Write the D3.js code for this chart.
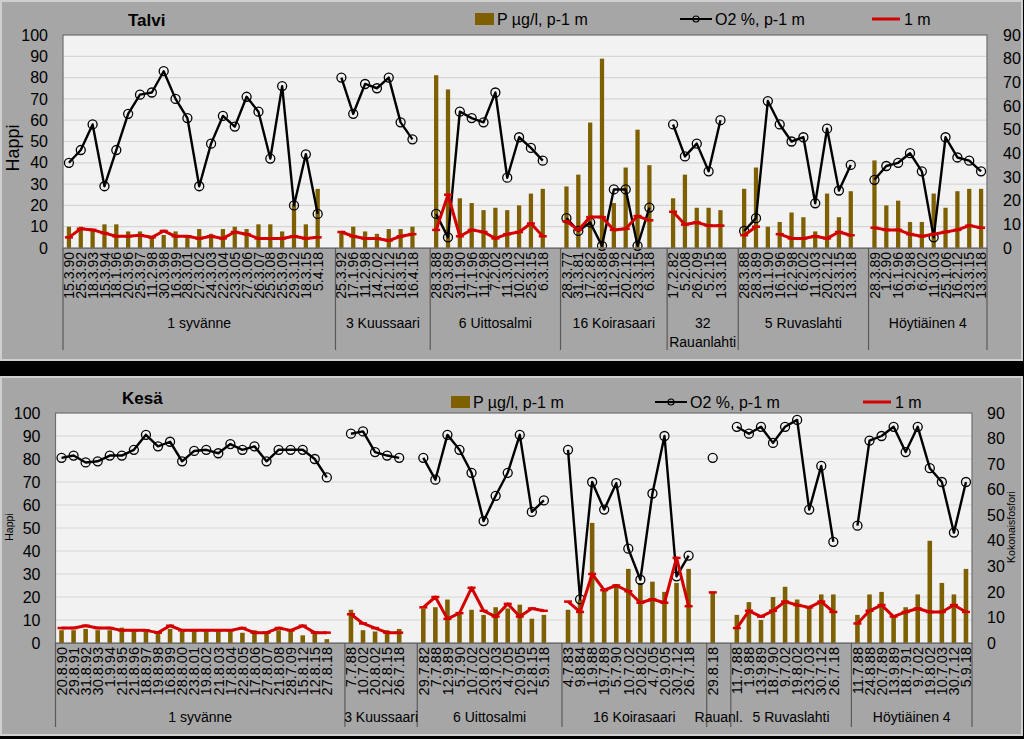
<!DOCTYPE html>
<html><head><meta charset="utf-8">
<script src="https://cdn.jsdelivr.net/npm/d3@7"></script>
<style>
body{margin:0;background:#000;}
svg{display:block;}
text{font-family:"Liberation Sans", Arial, sans-serif;fill:#000;}
</style>
</head><body><svg id="c" width="1024" height="739"></svg>
<script>
// ---------- DATA ----------
const legendLabels = ["P µg/l, p-1 m", "O2 %, p-1 m", "1 m"];
const leftTicks = [0,10,20,30,40,50,60,70,80,90,100];
const rightTicks = [0,10,20,30,40,50,60,70,80,90];

const winterGroups = ["1 syvänne","3 Kuussaari","6 Uittosalmi","16 Koirasaari","32|Rauanlahti","5 Ruvaslahti","Höytiäinen 4"];
const winterDates = [
 ["15.3.90","25.3.92","18.3.93","15.3.94","18.1.96","20.3.96","25.3.97","11.2.98","30.3.98","16.3.99","28.3.01","27.3.02","24.3.03","22.3.04","23.3.05","27.3.06","26.3.07","25.3.08","25.3.09","29.3.12","18.3.15","5.4.18"],
 ["25.3.92","17.1.96","11.2.98","14.2.02","21.2.12","18.3.15","16.4.18"],
 ["28.3.88","29.3.89","31.1.90","17.1.96","11.2.98","7.2.02","11.3.03","10.2.12","25.3.15","6.3.18"],
 ["28.3.77","31.3.81","17.2.82","28.3.88","11.2.98","20.2.12","23.3.15","6.3.18"],
 ["17.2.82","5.2.08","26.2.09","5.2.15","13.3.18"],
 ["28.3.88","28.3.89","31.1.90","16.1.96","12.2.98","6.2.02","11.3.03","20.2.12","23.3.15","13.3.18"],
 ["28.3.89","1.2.90","16.1.96","9.2.98","6.2.02","11.3.03","25.1.06","16.2.12","23.3.15","13.3.18"]
];
const winterO2 = [
 [40,46,58,29,46,63,72,73,83,70,61,29,49,62,57,71,64,42,76,20,44,16],
 [80,63,77,75,80,59,51],
 [16,5,64,61,59,73,33,52,47,41],
 [14,8,12,1,27.5,27.5,1,19],
 [58,43,49,36,60],
 [8,14,69,58,50,52,21,56,27,39],
 [32,38.5,40,44.5,36,5,52,42.5,41,36]
];
const winterP = [
 [9,9,8,10,10,7,7,4.5,5.5,7,5.5,8,6,8,9,8,10,10,7,18.5,10,25],
 [6.5,9,7,6,8,8,9],
 [73,67,21,19,16,17,16,18,23,25],
 [26,31,53,80,19,34,50,35],
 [21,31,17,17,16],
 [25,34,9,11,15,13,7,23,13,24],
 [37,18,20,11,11,23,17,24,25,25]
];
const winter1m = [
 [5,9,8.5,7,5.5,5.5,6,5,8,5.5,5.5,4.5,5.5,4.5,7.5,6.5,4.5,4.5,4.5,5.5,4.5,5],
 [7.5,5.5,4.5,4.5,3.5,5.5,6.5],
 [8.5,25,5.5,8.5,7.5,4.5,6.5,7.5,11.5,5.5],
 [12.5,8.5,14.5,14.5,8.5,9,15,13],
 [17,11,12,10.5,10.5],
 [6,10,null,6.5,4.5,4.5,5.5,4.5,7.5,6],
 [9.5,8.5,8.5,6.5,5.5,6.5,7.5,8.5,10.5,9.5]
];

const summerGroups = ["1 syvänne","3 Kuussaari","6 Uittosalmi","16 Koirasaari","Rauanl.","5 Ruvaslahti","Höytiäinen 4"];
const summerDates = [
 ["20.8.90","29.8.91","31.8.92","30.8.93","1.9.94","21.8.95","21.8.96","18.8.97","19.8.98","16.8.99","28.8.00","23.8.01","19.8.02","21.8.03","17.8.04","22.8.05","17.8.06","27.8.07","21.8.08","28.7.09","15.8.12","12.8.15","27.8.18"],
 ["7.7.88","10.7.02","20.8.02","12.8.15","26.7.18"],
 ["29.7.82","7.7.88","12.9.89","5.7.90","10.7.02","20.8.02","23.7.03","4.7.05","20.9.05","12.8.15","5.9.18"],
 ["4.7.83","9.8.84","1.9.88","19.7.89","5.7.90","10.7.02","20.8.02","4.7.05","20.9.05","30.7.12","26.7.18"],
 ["29.8.18"],
 ["11.7.88","1.9.88","13.9.89","18.7.90","9.7.02","19.8.02","23.7.03","30.7.12","26.7.18"],
 ["11.7.88","24.8.88","20.7.89","13.9.89","18.7.91","9.7.02","19.8.02","10.7.03","30.7.12","5.9.18"]
];
const summerO2 = [
 [80.5,81.5,78.5,79,81.5,81.5,84,90.5,85.5,87.5,79,83.5,84,82.5,86.5,84,85.5,79,84,84,84,80,72],
 [91,92,83,81.5,80.5],
 [80.5,71,90.5,84,74,53,64,74,90.5,57,62],
 [84,19,70,58,69.5,41,27.5,65,90,29,38],
 [80.5],
 [94,91,94,87,94,97,58,77,44],
 [51,88,90,94,83,94,76,70,48,70]
];
const summerP = [
 [5,5,5.5,5,5,6,4.5,4.5,4,5.5,4.5,4.5,4.5,4.5,4.5,4,5,4,5,5,3,4.5,1.5],
 [13,5,4.5,5,5.5],
 [13.5,14,17,12,13,11,14,13.5,15,9.5,11],
 [13,17,47,20.5,23,29,23.5,24,20,23.5,29],
 [20],
 [11,16,9,18,22,17,14,19,19],
 [11,19,20,10,14,19,40,23.5,19,29]
];
const summer1m = [
 [6.5,6.5,7.5,6.5,6.5,5.5,5.5,5.5,4.5,7.5,5.5,5.5,5.5,5.5,5.5,6.5,4.5,4.5,6.5,5.5,7.5,4.5,4.5],
 [12.5,8.5,6.5,4.5,4.5],
 [15.5,20,10.5,13,24,14,11.5,17,11.5,15,14],
 [18,13.5,30,23,25,22.5,17.5,19,17.5,37,16],
 [22],
 [6.5,14,11.5,14,18,16.5,15.5,18,13.5],
 [8.5,14,16.5,11.5,13.5,15,13.5,13.5,16.5,13.5]
];

// ---------- DRAW ----------
const svg = d3.select("#c");
svg.append("rect").attr("width",1024).attr("height",739).attr("fill","#000");

const BAR = "#7f6000", RED = "#d40000";

function panel(o){
  const g = svg.append("g");
  g.append("rect").attr("x",o.box[0]).attr("y",o.box[1]).attr("width",o.box[2]).attr("height",o.box[3])
    .attr("fill","#a6a6a6").attr("stroke","#cfcfcf").attr("stroke-width",2);

  const slots = [];
  const starts = [];
  o.groups.forEach((gn,gi)=>{
    starts.push(gi+"|0");
    o.dates[gi].forEach((d,i)=>slots.push({key:gi+"|"+i,label:d,o2:o.o2[gi][i],p:o.p[gi][i],m1:o.m1[gi][i]}));
    if(gi<o.groups.length-1) slots.push({key:gi+"|b",label:"",o2:null,p:null,m1:null});
  });
  const x = d3.scaleBand().domain(slots.map(s=>s.key)).range([o.x0,o.x1]);
  const yL = d3.scaleLinear().domain([0,100]).range([o.y1,o.y0]);
  const yR = d3.scaleLinear().domain([0,90]).range([o.y1,o.y0]);
  const cx = k => x(k)+x.bandwidth()/2;

  // plot area
  g.append("rect").attr("x",o.x0).attr("y",o.y0).attr("width",o.x1-o.x0).attr("height",o.y1-o.y0).attr("fill","#f2f2f2");
  g.selectAll(".grid").data(leftTicks.filter(t=>t>0&&t<100)).enter().append("line")
    .attr("x1",o.x0).attr("x2",o.x1).attr("y1",d=>yL(d)).attr("y2",d=>yL(d))
    .attr("stroke","#d6d6d6").attr("stroke-width",1.2);

  // bars
  const bw = x.bandwidth()*o.barFrac;
  g.selectAll(".bar").data(slots.filter(s=>s.p!=null)).enter().append("rect")
    .attr("x",d=>cx(d.key)-bw/2).attr("width",bw)
    .attr("y",d=>yR(d.p)).attr("height",d=>yR(0)-yR(d.p)).attr("fill",BAR);

  // O2 line
  const lineO2 = d3.line().defined(d=>d.o2!=null).x(d=>cx(d.key)).y(d=>yL(d.o2));
  g.append("path").datum(slots).attr("d",lineO2).attr("fill","none").attr("stroke","#000").attr("stroke-width",2.4).attr("stroke-linejoin","round");
  g.selectAll(".mk").data(slots.filter(s=>s.o2!=null)).enter().append("circle")
    .attr("cx",d=>cx(d.key)).attr("cy",d=>yL(d.o2)).attr("r",4.5)
    .attr("fill","none").attr("stroke","#000").attr("stroke-width",1.3);

  // 1 m line
  const line1 = d3.line().defined(d=>d.m1!=null).x(d=>cx(d.key)).y(d=>yL(d.m1));
  g.append("path").datum(slots).attr("d",line1).attr("fill","none").attr("stroke",RED).attr("stroke-width",3).attr("stroke-linejoin","round");
  g.selectAll(".rm").data(slots.filter(s=>s.m1!=null)).enter().append("line")
    .attr("x1",d=>cx(d.key)-4).attr("x2",d=>cx(d.key)+4).attr("y1",d=>yL(d.m1)).attr("y2",d=>yL(d.m1))
    .attr("stroke",RED).attr("stroke-width",2.5);

  // plot border
  g.append("rect").attr("x",o.x0).attr("y",o.y0).attr("width",o.x1-o.x0).attr("height",o.y1-o.y0)
    .attr("fill","none").attr("stroke","#6e6e6e").attr("stroke-width",1.2);

  // axes
  const aL = g.append("g").attr("transform",`translate(${o.x0},0)`)
    .call(d3.axisLeft(yL).tickValues(leftTicks).tickSize(0).tickPadding(o.padL));
  aL.select(".domain").remove();
  aL.selectAll("text").attr("font-size",16).attr("fill","#000").style("font-family","Liberation Sans");
  const aR = g.append("g").attr("transform",`translate(${o.x1},0)`)
    .call(d3.axisRight(yR).tickValues(rightTicks).tickSize(0).tickPadding(o.padR));
  aR.select(".domain").remove();
  aR.selectAll("text").attr("font-size",16).attr("fill","#000").style("font-family","Liberation Sans");

  const labelOf = new Map(slots.map(s=>[s.key,s.label]));
  const aB = g.append("g").attr("transform",`translate(0,${o.y1})`)
    .call(d3.axisBottom(x).tickSize(0).tickFormat(k=>labelOf.get(k)));
  aB.select(".domain").attr("stroke","#6e6e6e");
  aB.selectAll("text").attr("font-size",o.catFont).attr("fill","#000").style("font-family","Liberation Sans")
    .attr("transform","rotate(-90)").attr("text-anchor","end").attr("x",-4).attr("y",0).attr("dy","0.36em");

  // group dividers & labels
  const bounds = starts.map(k=>x(k)).concat([o.x1]);
  g.selectAll(".div").data(bounds).enter().append("line")
    .attr("x1",d=>d).attr("x2",d=>d).attr("y1",o.y1).attr("y2",o.divBottom)
    .attr("stroke","#5a5a5a").attr("stroke-width",1.2);
  o.groups.forEach((gn,gi)=>{
    const mid = (bounds[gi]+bounds[gi+1])/2;
    const lines = gn.split("|");
    lines.forEach((ln,li)=>{
      g.append("text").attr("x",mid).attr("y",o.groupY+li*19).attr("text-anchor","middle")
        .attr("font-size",14).text(ln);
    });
  });

  // title
  g.append("text").attr("x",o.title[1]).attr("y",o.title[2]).attr("font-size",17).attr("font-weight","bold").text(o.title[0]);
  // axis titles
  g.append("text").attr("transform",`translate(${o.yTitle[1]},${o.yTitle[2]}) rotate(-90)`)
    .attr("text-anchor","middle").attr("font-size",o.yTitle[3]).text(o.yTitle[0]);
  if(o.rTitle){
    g.append("text").attr("transform",`translate(${o.rTitle[1]},${o.rTitle[2]}) rotate(-90)`)
      .attr("text-anchor","middle").attr("font-size",o.rTitle[3]).text(o.rTitle[0]);
  }

  // legend
  const L = o.legend, ly = L.y;
  g.append("rect").attr("x",L.x[0]).attr("y",ly-6).attr("width",19).attr("height",12).attr("fill",BAR);
  g.append("text").attr("x",L.x[0]+22).attr("y",ly).attr("dy","0.35em").attr("font-size",16).text(legendLabels[0]);
  g.append("line").attr("x1",L.x[1]).attr("x2",L.x[1]+32).attr("y1",ly).attr("y2",ly).attr("stroke","#000").attr("stroke-width",2);
  g.append("circle").attr("cx",L.x[1]+16).attr("cy",ly).attr("r",3).attr("fill","none").attr("stroke","#000").attr("stroke-width",1.2);
  g.append("text").attr("x",L.x[1]+35).attr("y",ly).attr("dy","0.35em").attr("font-size",16).text(legendLabels[1]);
  g.append("line").attr("x1",L.x[2]).attr("x2",L.x[2]+28).attr("y1",ly).attr("y2",ly).attr("stroke",RED).attr("stroke-width",3);
  g.append("text").attr("x",L.x[2]+32).attr("y",ly).attr("dy","0.35em").attr("font-size",16).text(legendLabels[2]);
}

panel({
  box:[1,1,1021,359], x0:63, x1:987, y0:35, y1:248, divBottom:350, padL:15, padR:16,
  groups:winterGroups, dates:winterDates, o2:winterO2, p:winterP, m1:winter1m,
  barFrac:0.36, catFont:14, groupY:328,
  title:["Talvi",128,26], yTitle:["Happi",19,148,18], rTitle:null,
  legend:{y:19, x:[475,680,872]}
});
panel({
  box:[1,377,1021,358], x0:55.5, x1:972, y0:413, y1:643, divBottom:727, padL:15, padR:15,
  groups:summerGroups, dates:summerDates, o2:summerO2, p:summerP, m1:summer1m,
  barFrac:0.38, catFont:14.5, groupY:722,
  title:["Kesä",122,404], yTitle:["Happi",13,527,10.5], rTitle:["Kokonaisfosfori",1015,527,10.5],
  legend:{y:402, x:[451,655,863]}
});
</script>
</body></html>
